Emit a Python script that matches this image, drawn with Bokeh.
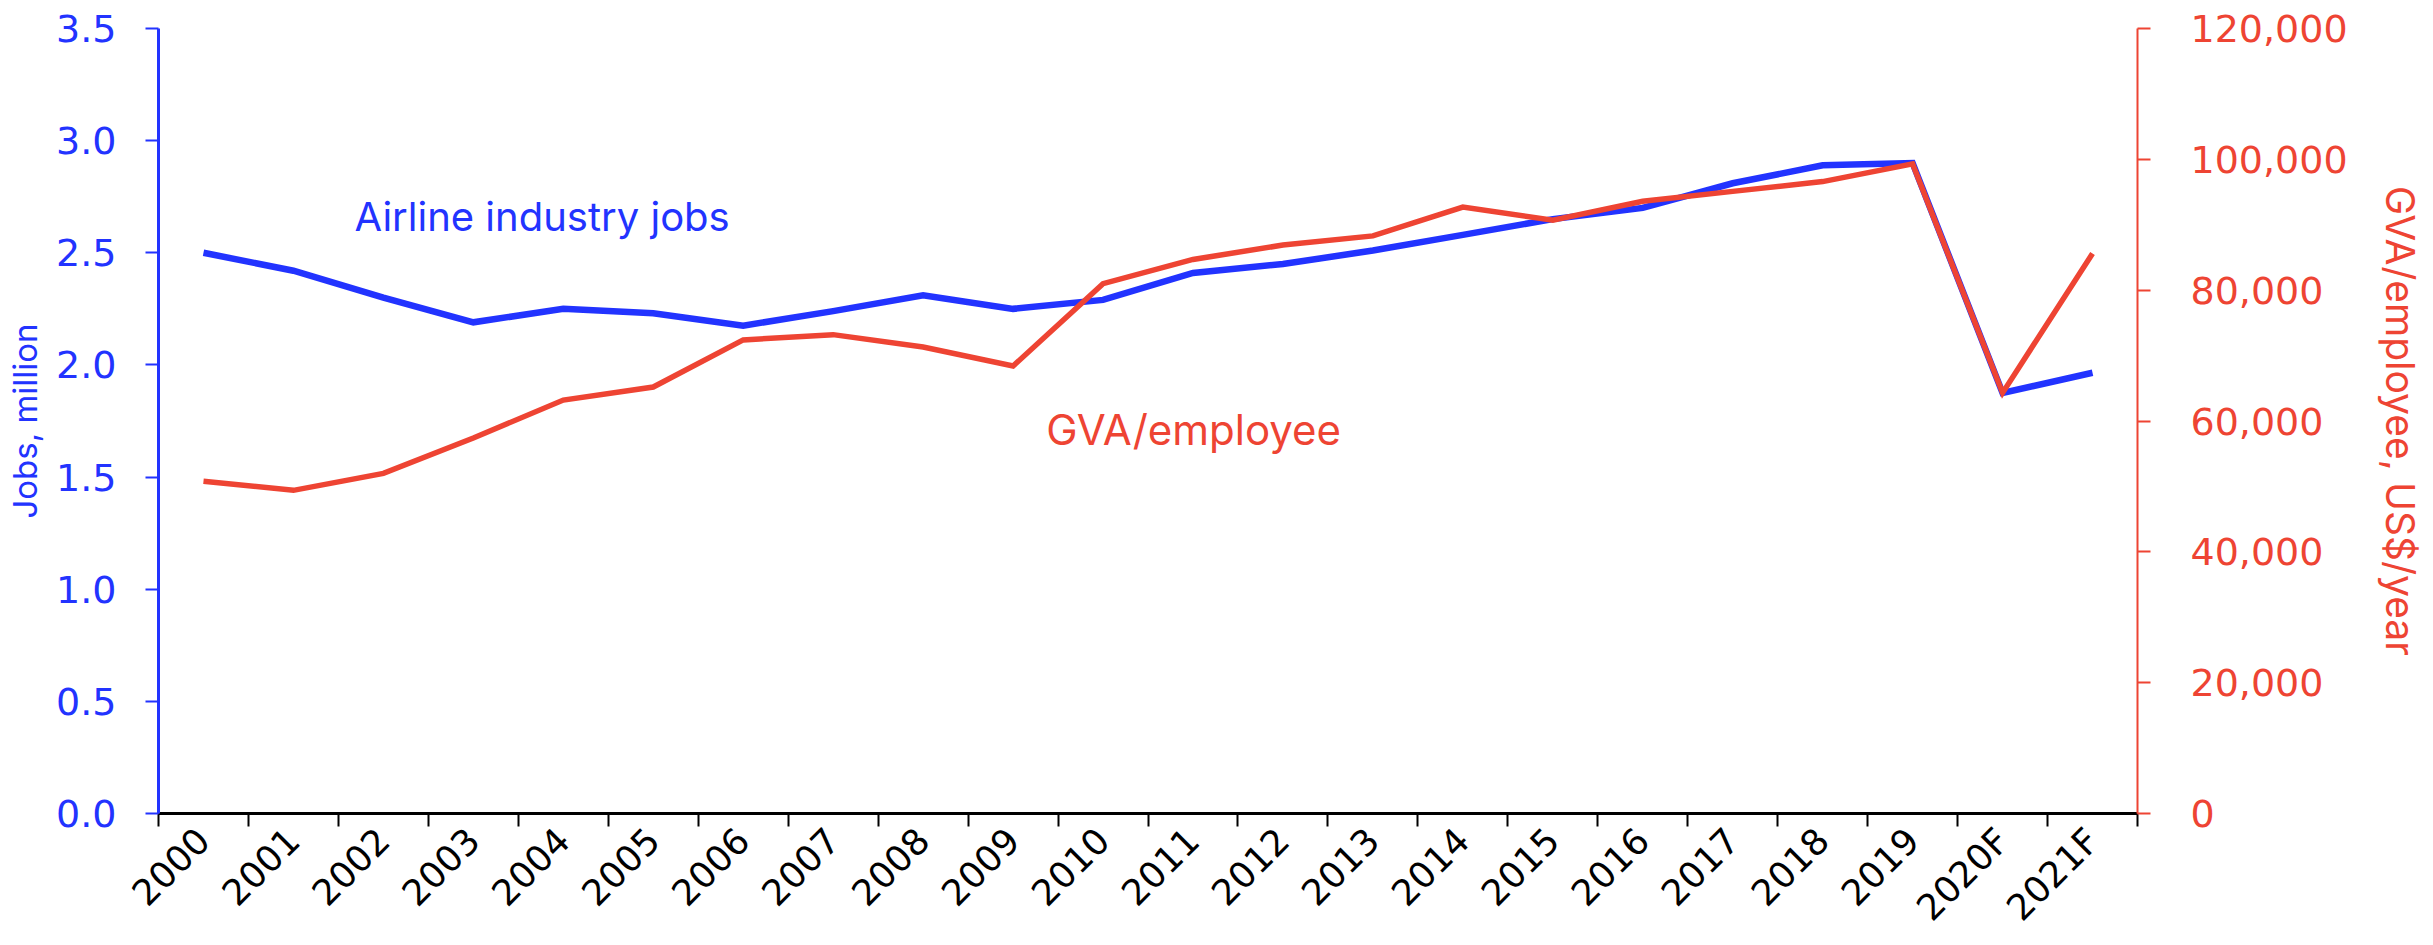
import math
from bokeh.plotting import figure
from bokeh.models import Range1d, LinearAxis, FixedTicker, NumeralTickFormatter, ColumnDataSource
from bokeh.core.properties import value
from bokeh.embed import file_html
from bokeh.resources import INLINE

years = ["2000", "2001", "2002", "2003", "2004", "2005", "2006", "2007", "2008", "2009",
         "2010", "2011", "2012", "2013", "2014", "2015", "2016", "2017", "2018", "2019",
         "2020F", "2021F"]
jobs_million = [2.50, 2.42, 2.30, 2.19, 2.25, 2.23, 2.175, 2.24, 2.31, 2.25,
                2.29, 2.41, 2.45, 2.51, 2.58, 2.65, 2.70, 2.81, 2.89, 2.90,
                1.875, 1.965]
gva_per_employee = [50800, 49400, 52000, 57400, 63200, 65200, 72400, 73200, 71300, 68400,
                    81000, 84700, 86900, 88300, 92700, 90700, 93600, 95100, 96600, 99300,
                    64300, 85600]
left_ticks = [0, 0.5, 1.0, 1.5, 2.0, 2.5, 3.0, 3.5]
right_ticks = [0, 20000, 40000, 60000, 80000, 100000, 120000]

BLUE = "#2233FF"
RED = "#EE4433"
FONT = "Inter"
TICKFONT = "DejaVu Sans"

xs = [i + 0.5 for i in range(len(years))]
bounds = list(range(len(years) + 1))
src = ColumnDataSource(dict(x=xs, jobs=jobs_million, gva=gva_per_employee))

p = figure(width=2433, height=945, output_backend="svg", toolbar_location=None,
           x_range=Range1d(0, len(years)), y_range=Range1d(0, 3.5),
           min_border_left=158, min_border_right=296, min_border_top=28, min_border_bottom=129)
p.outline_line_color = None
p.xgrid.visible = False
p.ygrid.visible = False

# left axis
la = p.left[0]
la.ticker = FixedTicker(ticks=left_ticks)
la.formatter = NumeralTickFormatter(format="0.0")
la.axis_line_color = BLUE
la.axis_line_width = 3
la.major_tick_line_color = BLUE
la.major_tick_line_width = 2
la.major_tick_out = 13
la.major_tick_in = 0
la.minor_tick_line_color = None
la.major_label_text_color = BLUE
la.major_label_text_font = TICKFONT
la.major_label_text_font_size = "38px"
la.major_label_standoff = 29
la.axis_label = "Jobs, million"
la.axis_label_text_color = BLUE
la.axis_label_text_font = FONT
la.axis_label_text_font_size = "33px"
la.axis_label_text_font_style = "normal"
la.axis_label_standoff = 8

# bottom axis: labels at category centres, tick marks at category boundaries
ba = p.below[0]
ba.ticker = FixedTicker(ticks=xs, minor_ticks=bounds)
ba.major_label_overrides = {x: y for x, y in zip(xs, years)}
ba.axis_line_color = "black"
ba.axis_line_width = 3
ba.major_tick_line_color = None
ba.major_tick_out = 0
ba.major_tick_in = 0
ba.minor_tick_line_color = "black"
ba.minor_tick_line_width = 2
ba.minor_tick_out = 13
ba.minor_tick_in = 0
ba.major_label_orientation = math.pi / 4
ba.major_label_text_font = TICKFONT
ba.major_label_text_font_size = "36px"
ba.major_label_text_color = "black"
ba.major_label_standoff = 8

# right axis
p.extra_y_ranges = {"gva": Range1d(0, 120000)}
ra = LinearAxis(y_range_name="gva", ticker=FixedTicker(ticks=right_ticks),
                formatter=NumeralTickFormatter(format="0,0"))
ra.axis_line_color = RED
ra.axis_line_width = 2
ra.major_tick_line_color = RED
ra.major_tick_line_width = 2
ra.major_tick_out = 13
ra.major_tick_in = 0
ra.minor_tick_line_color = None
ra.major_label_text_color = RED
ra.major_label_text_font = TICKFONT
ra.major_label_text_font_size = "38px"
ra.major_label_standoff = 40
ra.axis_label = "GVA/employee, US$/year"
ra.axis_label_text_color = RED
ra.axis_label_text_font = FONT
ra.axis_label_text_font_size = "39px"
ra.axis_label_text_font_style = "normal"
ra.axis_label_standoff = 26
p.add_layout(ra, "right")

p.line("x", "jobs", source=src, line_color=BLUE, line_width=6.5, line_join="miter")
p.line("x", "gva", source=src, y_range_name="gva", line_color=RED, line_width=5.5, line_join="miter")

p.text(x=[2.18], y=[2.66], text=["Airline industry jobs"], text_color=BLUE,
       text_font=value(FONT), text_font_size="40px", text_baseline="alphabetic", text_align="left")
p.text(x=[9.87], y=[1.712], text=["GVA/employee"], text_color=RED,
       text_font=value(FONT), text_font_size="42px", text_baseline="alphabetic", text_align="left")

open("out.html", "w").write(file_html(p, INLINE))
